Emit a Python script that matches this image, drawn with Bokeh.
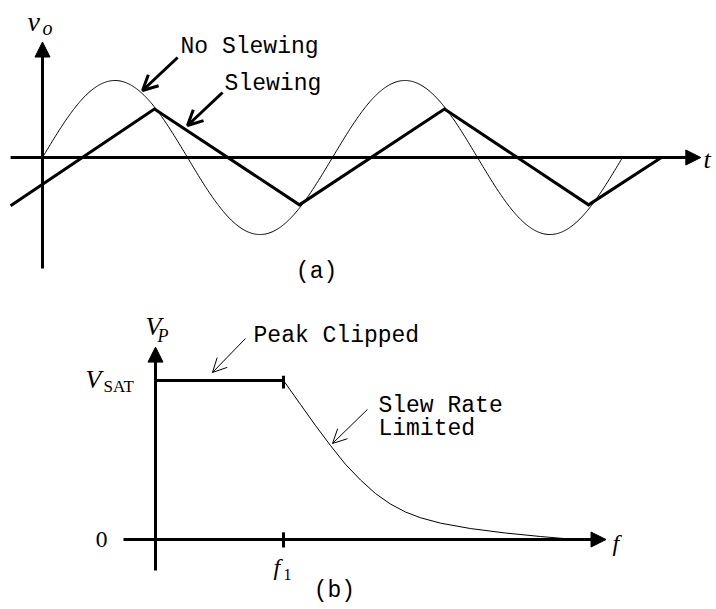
import numpy as np
from bokeh.plotting import figure
from bokeh.models import Range1d, Arrow, NormalHead, OpenHead
from bokeh.layouts import column
from bokeh.embed import file_html
from bokeh.resources import INLINE
from bokeh.core.properties import value

# ---------------- (a) output voltage v_o versus time ----------------
# time in periods of the input sine, voltage in units of the sine amplitude
sine_amplitude = 1.0
sine_period = 1.0
sine_cycles = 2.0

# slew-limited (triangular) output: corner points
slew_t = [-0.110, 0.386, 0.886, 1.386, 1.883, 2.134]
slew_v = [-0.625, 0.630, -0.615, 0.630, -0.615, 0.0]

# ---------------- (b) peak output V_P versus frequency ----------------
# frequency in units of f1, peak voltage in units of V_SAT
f1 = 1.0
v_sat = 1.0
clip_f = [0.0, 1.0]
clip_v = [1.0, 1.0]

rate_f = [1.0, 1.133, 1.25, 1.367, 1.484, 1.602, 1.719, 1.836, 1.953,
          2.070, 2.227, 2.461, 2.734, 3.008, 3.281]
rate_v = [1.0, 0.849, 0.717, 0.591, 0.473, 0.374, 0.289, 0.223, 0.173,
          0.137, 0.103, 0.069, 0.041, 0.019, 0.0]

MONO = value("Liberation Mono")
SERIF = value("Liberation Serif")
HEAD = dict(fill_color="black", line_color="black")


def blank_figure(height, x_range, y_range):
    p = figure(width=716, height=height, x_range=x_range, y_range=y_range,
               output_backend="svg", toolbar_location=None, title=None,
               x_axis_location=None, y_axis_location=None, min_border=0)
    p.grid.visible = False
    p.outline_line_color = None
    p.background_fill_color = "white"
    p.border_fill_color = "white"
    return p


def label(p, x, y, text, font=MONO, size="23px", style="normal", align="left", baseline="alphabetic"):
    p.text(x=[x], y=[y], text=[text], text_font=font, text_font_size=size,
           text_font_style=style, text_align=align, text_baseline=baseline,
           text_color="black")


def arrow(p, xs, ys, xe, ye, width, head):
    p.add_layout(Arrow(end=head, x_start=xs, y_start=ys, x_end=xe, y_end=ye,
                       line_width=width, line_color="black"))


# ---------------- panel (a) ----------------
pa = blank_figure(300, Range1d(-0.1448, 2.3241), Range1d(-1.857, 2.039))

# axes with filled arrow heads
arrow(pa, 0.0, -1.44, 0.0, 1.50, 3, NormalHead(size=15, **HEAD))
arrow(pa, -0.110, 0.0, 2.270, 0.0, 3, NormalHead(size=15, **HEAD))

# ideal sinusoidal output
t = np.linspace(0.0, sine_cycles * sine_period, 600)
pa.line(t, sine_amplitude * np.sin(2 * np.pi * t / sine_period), line_color="black", line_width=1)

# slew-rate-limited output
pa.line(slew_t, slew_v, line_color="black", line_width=3, line_join="miter")

label(pa, 0.476, 1.429, "No Slewing")
label(pa, 0.628, 0.961, "Slewing")
arrow(pa, 0.466, 1.299, 0.345, 0.870, 3, OpenHead(size=15, line_width=3, line_color="black"))
arrow(pa, 0.621, 0.844, 0.500, 0.416, 3, OpenHead(size=15, line_width=3, line_color="black"))

label(pa, -0.052, 1.766, "v", font=SERIF, size="28px", style="italic")
label(pa, 0.0, 1.688, "o", font=SERIF, size="20px", style="italic")
label(pa, 2.279, -0.022, "t", font=SERIF, size="26px", style="italic")
label(pa, 0.945, -1.493, "(a)", align="center")

# ---------------- panel (b) ----------------
pb = blank_figure(309, Range1d(-1.211, 4.383), Range1d(-0.440, 1.503))

arrow(pb, 0.0, -0.195, 0.0, 1.21, 3, NormalHead(size=15, **HEAD))
arrow(pb, -0.25, 0.0, 3.52, 0.0, 3, NormalHead(size=15, **HEAD))

# ticks at f1
pb.segment(x0=[f1, f1], y0=[-0.05, 0.95 * v_sat], x1=[f1, f1], y1=[0.045, 1.03 * v_sat],
           line_color="black", line_width=3)

pb.line(clip_f, clip_v, line_color="black", line_width=3)
pb.line(rate_f, rate_v, line_color="black", line_width=1)

label(pb, 0.766, 1.277, "Peak Clipped")
label(pb, 1.742, 0.837, "Slew Rate")
label(pb, 1.742, 0.692, "Limited")
arrow(pb, 0.703, 1.264, 0.445, 1.050, 1, OpenHead(size=14, line_width=1, line_color="black"))
arrow(pb, 1.656, 0.818, 1.383, 0.604, 1, OpenHead(size=14, line_width=1, line_color="black"))

label(pb, -0.078, 1.340, "V", font=SERIF, size="26px", style="italic")
label(pb, 0.016, 1.277, "P", font=SERIF, size="18px", style="italic")
label(pb, -0.547, 1.007, "V", font=SERIF, size="26px", style="italic")
label(pb, -0.406, 0.963, "SAT", font=SERIF, size="17px")
label(pb, -0.422, 0.0, "0", font=value("DejaVu Serif"), size="20px", align="center", baseline="middle")
label(pb, 0.922, -0.170, "f", font=SERIF, size="24px", style="italic")
label(pb, 1.0, -0.220, "1", font=SERIF, size="16px")
label(pb, 3.57, -0.019, "f", font=SERIF, size="24px", style="italic")
label(pb, 1.398, -0.321, "(b)", align="center")

layout = column(pa, pb, spacing=0)
open("out.html", "w").write(file_html(layout, INLINE))
